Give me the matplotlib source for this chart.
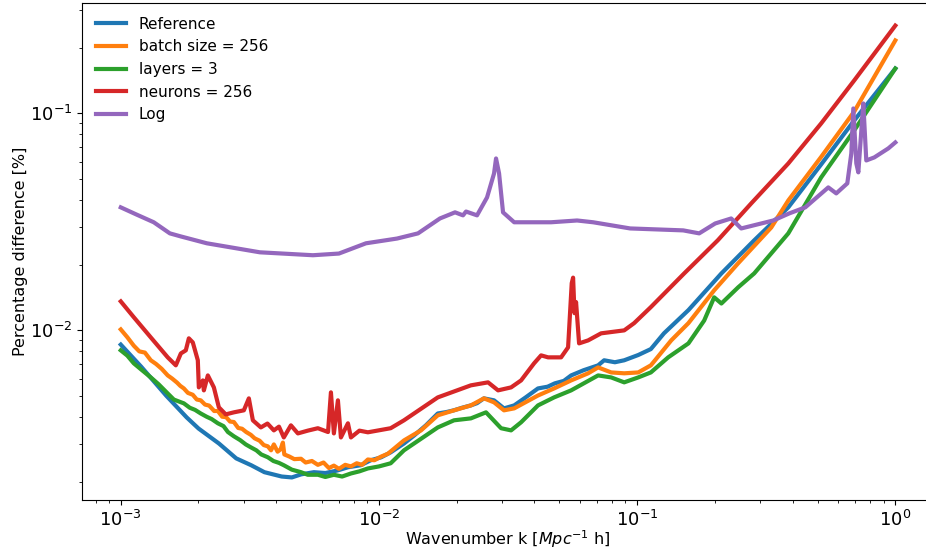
import matplotlib
matplotlib.use("Agg")
import matplotlib.pyplot as plt

# Reference network
k_ref = [1.0e-3, 1.2e-3, 1.5e-3, 1.8e-3, 2.0e-3, 2.4e-3, 2.8e-3, 3.2e-3, 3.6e-3,
         4.2e-3, 4.6e-3, 5.0e-3, 5.6e-3, 6.2e-3, 6.9e-3, 7.6e-3, 8.5e-3, 9.3e-3,
         1.02e-2, 1.11e-2, 1.25e-2, 1.37e-2, 1.52e-2, 1.69e-2, 1.82e-2, 1.95e-2, 2.1e-2,
         2.27e-2, 2.4e-2, 2.55e-2, 2.79e-2, 3.05e-2, 3.34e-2, 3.7e-2, 4.13e-2, 4.5e-2,
         4.8e-2, 5.2e-2, 5.55e-2, 6.2e-2, 7.06e-2, 7.45e-2, 8.2e-2, 8.91e-2, 0.101,
         0.113, 0.127, 0.158, 0.212, 0.284, 0.385, 0.516, 0.693, 1.0]
err_ref = [0.0086, 0.0068, 0.0050, 0.00397, 0.00353, 0.00301, 0.00257, 0.00239, 0.00222,
           0.00212, 0.00210, 0.00217, 0.00222, 0.00220, 0.00226, 0.00234, 0.00239, 0.00252,
           0.00260, 0.00274, 0.00301, 0.00328, 0.00365, 0.00414, 0.00420, 0.00428, 0.00440,
           0.00451, 0.00462, 0.00486, 0.00476, 0.00437, 0.00451, 0.00491, 0.00540, 0.00550,
           0.00570, 0.00585, 0.00620, 0.00655, 0.00690, 0.00728, 0.00713, 0.00728, 0.00770,
           0.00820, 0.00969, 0.0124, 0.0183, 0.0260, 0.0369, 0.0582, 0.0928, 0.161]

# batch size = 256
k_batch = [1.0e-3, 1.06e-3, 1.123e-3, 1.18e-3, 1.24e-3, 1.307e-3, 1.37e-3, 1.44e-3,
           1.52e-3, 1.58e-3, 1.65e-3, 1.70e-3, 1.755e-3, 1.82e-3, 1.90e-3, 1.97e-3,
           2.04e-3, 2.12e-3, 2.20e-3, 2.30e-3, 2.377e-3, 2.47e-3, 2.56e-3, 2.65e-3,
           2.742e-3, 2.85e-3, 2.95e-3, 3.06e-3, 3.19e-3, 3.30e-3, 3.45e-3, 3.58e-3,
           3.713e-3, 3.82e-3, 3.917e-3, 4.05e-3, 4.16e-3, 4.245e-3, 4.30e-3, 4.50e-3,
           4.70e-3, 4.99e-3, 5.2e-3, 5.5e-3, 5.8e-3, 6.1e-3, 6.4e-3, 6.69e-3, 7.0e-3,
           7.4e-3, 7.789e-3, 8.2e-3, 8.6e-3, 9.06e-3, 9.6e-3, 1.02e-2, 1.083e-2,
           1.25e-2, 1.455e-2, 1.69e-2, 1.953e-2, 2.27e-2, 2.55e-2, 2.79e-2, 3.05e-2,
           3.34e-2, 4.13e-2, 4.768e-2, 5.55e-2, 6.457e-2, 7.06e-2, 7.931e-2, 8.91e-2,
           0.101, 0.113, 0.1164, 0.1355, 0.158, 0.1988, 0.2463, 0.3307, 0.385, 0.516,
           0.693, 1.0]
err_batch = [0.0101, 0.0093, 0.00850, 0.00800, 0.00790, 0.00728, 0.00700, 0.00665,
             0.00620, 0.00600, 0.00575, 0.00555, 0.00540, 0.00515, 0.00505, 0.00480,
             0.00476, 0.00455, 0.00450, 0.00425, 0.00425, 0.00400, 0.00398, 0.00380,
             0.00378, 0.00355, 0.00352, 0.00340, 0.00330, 0.00318, 0.00310, 0.00296,
             0.00292, 0.00280, 0.00298, 0.00276, 0.00283, 0.00304, 0.00268, 0.00262,
             0.00255, 0.00256, 0.00246, 0.00250, 0.00240, 0.00246, 0.00232, 0.00238, 0.00230,
             0.00240, 0.00236, 0.00244, 0.00240, 0.00254, 0.00252, 0.00262, 0.00270,
             0.00311, 0.00346, 0.00406, 0.00428, 0.00451, 0.00486, 0.00466, 0.00428,
             0.00437, 0.00501, 0.00540, 0.00588, 0.00634, 0.00675, 0.00640, 0.00634,
             0.00640, 0.00690, 0.00720, 0.00899, 0.0108, 0.0153, 0.0204, 0.0298, 0.0397,
             0.0630, 0.1020, 0.217]

# layers = 3
k_layers = [1.0e-3, 1.06e-3, 1.123e-3, 1.2e-3, 1.307e-3, 1.4e-3, 1.52e-3, 1.605e-3,
            1.68e-3, 1.755e-3, 1.85e-3, 1.94e-3, 2.04e-3, 2.15e-3, 2.25e-3, 2.377e-3,
            2.5e-3, 2.6e-3, 2.742e-3, 2.9e-3, 3.05e-3, 3.19e-3, 3.35e-3, 3.5e-3, 3.713e-3,
            3.9e-3, 4.1e-3, 4.28e-3, 4.6e-3, 4.99e-3, 5.3e-3, 5.8e-3, 6.2e-3, 6.69e-3,
            7.2e-3, 7.789e-3, 8.4e-3, 9.06e-3, 1.0e-2, 1.11e-2, 1.25e-2, 1.69e-2, 1.953e-2,
            2.27e-2, 2.598e-2, 2.971e-2, 3.249e-2, 3.552e-2, 4.13e-2, 4.768e-2, 5.55e-2,
            7.06e-2, 7.931e-2, 8.91e-2, 0.101, 0.113, 0.1319, 0.158, 0.1818, 0.1988, 0.212,
            0.2463, 0.284, 0.385, 0.516, 0.693, 1.0]
err_layers = [0.00809, 0.00765, 0.00705, 0.00660, 0.00607, 0.00565, 0.00512, 0.00480,
              0.00470, 0.00461, 0.00440, 0.00430, 0.00414, 0.00400, 0.00390, 0.00373,
              0.00362, 0.00340, 0.00325, 0.00312, 0.00298, 0.00289, 0.00280, 0.00268, 0.00260,
              0.00250, 0.00245, 0.00239, 0.00228, 0.00222, 0.00216, 0.00216, 0.00211, 0.00216,
              0.00212, 0.00219, 0.00224, 0.00231, 0.00236, 0.00244, 0.00280, 0.00357, 0.00385,
              0.00393, 0.00419, 0.00354, 0.00346, 0.00377, 0.00451, 0.00491, 0.00529,
              0.00620, 0.00607, 0.00576, 0.00607, 0.00640, 0.00751, 0.00871, 0.0111, 0.0142,
              0.0133, 0.0158, 0.0183, 0.0280, 0.0507, 0.0835, 0.161]

# neurons = 256
k_neurons = [1.0e-3, 1.123e-3, 1.307e-3, 1.52e-3, 1.634e-3, 1.709e-3, 1.786e-3, 1.835e-3,
             1.901e-3, 1.988e-3, 2.006e-3, 2.079e-3, 2.098e-3, 2.174e-3, 2.294e-3,
             2.398e-3, 2.55e-3, 2.742e-3, 2.997e-3, 3.134e-3, 3.248e-3, 3.488e-3, 3.7e-3,
             3.917e-3, 4.1e-3, 4.28e-3, 4.56e-3, 4.853e-3, 5.3e-3, 5.8e-3, 6.35e-3,
             6.516e-3, 6.69e-3, 6.935e-3, 7.123e-3, 7.583e-3, 7.789e-3, 8.4e-3, 9.06e-3,
             1.11e-2, 1.25e-2, 1.69e-2, 2.27e-2, 2.646e-2, 2.893e-2, 3.249e-2, 3.552e-2,
             3.989e-2, 4.246e-2, 4.519e-2, 5.075e-2, 5.402e-2, 5.58e-2, 5.649e-2, 5.72e-2,
             5.8e-2, 5.958e-2, 6.457e-2, 7.25e-2, 8.91e-2, 9.737e-2, 0.113, 0.1521, 0.2052,
             0.2767, 0.385, 0.516, 0.693, 1.0]
err_neurons = [0.0136, 0.0115, 0.00928, 0.00751, 0.00690, 0.00783, 0.00809, 0.00919,
               0.00880, 0.00728, 0.00546, 0.00588, 0.00529, 0.00620, 0.00546,
               0.00442, 0.00410, 0.00419, 0.00428, 0.00486, 0.00385, 0.00357, 0.00372,
               0.00346, 0.00360, 0.00321, 0.00365, 0.00335, 0.00345, 0.00354, 0.00340,
               0.00518, 0.00335, 0.00476, 0.00321, 0.00373, 0.00321, 0.00345, 0.00339,
               0.00354, 0.00385, 0.00491, 0.00558, 0.00576, 0.00529, 0.00546, 0.00588,
               0.00705, 0.00767, 0.00751, 0.00751, 0.00835, 0.0165, 0.0175, 0.0120,
               0.0135, 0.00871, 0.00899, 0.00969, 0.0100, 0.0108, 0.0128, 0.0183, 0.0260,
               0.0385, 0.0588, 0.0899, 0.1419, 0.254]

# Log
k_log = [1.0e-3, 1.15e-3, 1.342e-3, 1.549e-3, 1.709e-3, 2.154e-3, 3.457e-3, 5.549e-3,
         6.998e-3, 8.906e-3, 1.175e-2, 1.417e-2, 1.723e-2, 1.971e-2, 2.116e-2, 2.174e-2,
         2.398e-2, 2.622e-2, 2.791e-2, 2.841e-2, 2.919e-2, 3.024e-2, 3.34e-2, 4.642e-2,
         5.853e-2, 6.753e-2, 9.396e-2, 0.1508, 0.1739, 0.2006, 0.2313, 0.2530, 0.3367,
         0.3882, 0.448, 0.55, 0.5905, 0.6516, 0.6753, 0.6875, 0.7062, 0.719, 0.7385,
         0.7516, 0.7718, 0.8291, 0.9395, 1.0]
err_log = [0.0369, 0.0342, 0.0315, 0.0280, 0.0271, 0.0252, 0.0229, 0.0222,
           0.0226, 0.0252, 0.0265, 0.0280, 0.0328, 0.0350, 0.0339, 0.0353, 0.0339,
           0.0410, 0.0529, 0.0620, 0.0529, 0.0350, 0.0315, 0.0315, 0.0321,
           0.0315, 0.0295, 0.0289, 0.0280, 0.0311, 0.0328, 0.0295, 0.0321, 0.0346,
           0.0369, 0.0456, 0.0428, 0.0476, 0.0654, 0.1054, 0.0588, 0.0535, 0.0835, 0.1112,
           0.0607, 0.0627, 0.0690, 0.0735]

fig = plt.figure(figsize=(9.26, 5.56), dpi=100)
ax = fig.add_axes([0.0886, 0.1007, 0.9201, 0.8939])

ax.plot(k_ref, err_ref, lw=3, label="Reference")
ax.plot(k_batch, err_batch, lw=3, label="batch size = 256")
ax.plot(k_layers, err_layers, lw=3, label="layers = 3")
ax.plot(k_neurons, err_neurons, lw=3, label="neurons = 256")
ax.plot(k_log, err_log, lw=3, label="Log")

ax.set_xscale("log")
ax.set_yscale("log")
ax.set_xlabel(r"Wavenumber k [$Mpc^{-1}$ h]", fontsize=11.5, labelpad=-1)
ax.set_ylabel("Percentage difference [%]", fontsize=11.5, labelpad=1)
ax.tick_params(axis="both", which="major", labelsize=13)
ax.legend(loc="upper left", frameon=False, fontsize=11)

fig.savefig("out.png", dpi=100)
